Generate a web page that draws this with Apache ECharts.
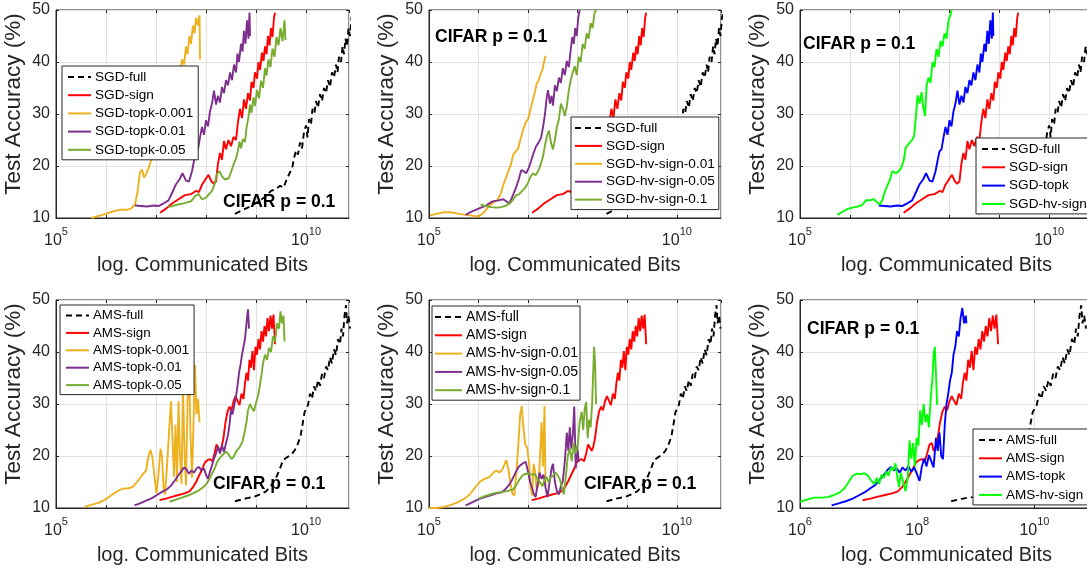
<!DOCTYPE html>
<html>
<head>
<meta charset="utf-8">
<script src="https://cdn.jsdelivr.net/npm/echarts@6/dist/echarts.min.js"></script>
<style>
  html, body { margin: 0; padding: 0; background: #fff; overflow: hidden; }
  /* a little wider than the window: the right-hand panels run past the picture edge */
  #chart { width: 1110px; height: 571px; }
</style>
</head>
<body>
<div id="chart"></div>
<script>
// every point is [log10 of communicated bits, test accuracy %]
const sgdFull = [[8.58,10.8],[8.75,11.6],[8.9,12.3],[9.05,13.2],[9.2,14.2],[9.3,15.2],[9.4,15.6],[9.48,16.2],[9.55,15.8],[9.62,17.6],[9.68,18.8],[9.72,19.4],[9.76,21.5],[9.8,23.0],[9.84,22.2],[9.88,24.5],[9.92,23.4],[9.96,26.5],[10.0,27.8],[10.03,25.5],[10.06,29.0],[10.1,28.0],[10.13,31.0],[10.17,30.2],[10.2,32.5],[10.24,31.2],[10.28,33.8],[10.32,32.5],[10.36,35.0],[10.4,34.0],[10.44,36.5],[10.48,35.2],[10.52,38.0],[10.56,37.0],[10.6,39.5],[10.63,38.0],[10.66,41.0],[10.7,40.0],[10.73,43.0],[10.76,41.5],[10.79,44.5],[10.82,43.0],[10.85,46.5],[10.88,45.0],[10.91,48.5],[10.94,50.0]];
const sgdSign = [[7.08,11.0],[7.2,11.8],[7.32,12.8],[7.45,13.6],[7.58,14.4],[7.7,14.6],[7.8,15.2],[7.86,15.0],[7.92,16.4],[8.0,17.6],[8.05,18.3],[8.1,17.2],[8.15,16.6],[8.2,17.0],[8.24,20.5],[8.28,22.5],[8.32,21.2],[8.36,24.8],[8.4,23.2],[8.45,25.0],[8.5,23.8],[8.55,25.6],[8.6,25.0],[8.64,28.5],[8.68,31.0],[8.72,29.2],[8.76,32.8],[8.8,31.0],[8.84,34.0],[8.88,32.6],[8.91,36.2],[8.95,35.0],[8.98,38.0],[9.02,36.8],[9.05,40.0],[9.08,38.5],[9.12,41.8],[9.15,40.2],[9.18,43.0],[9.21,41.5],[9.24,45.0],[9.27,43.2],[9.3,46.5],[9.33,44.8],[9.36,48.5],[9.38,49.5]];
const sgdTopk001 = [[5.71,10.0],[5.85,10.4],[6.0,10.8],[6.15,11.3],[6.3,11.6],[6.42,11.6],[6.5,11.8],[6.58,12.6],[6.63,15.0],[6.68,18.8],[6.72,19.3],[6.76,17.8],[6.8,18.4],[6.85,19.6],[6.9,21.0],[7.0,23.5],[7.1,26.0],[7.2,29.0],[7.3,32.0],[7.4,35.0],[7.48,38.0],[7.52,40.5],[7.56,39.5],[7.6,43.0],[7.63,41.5],[7.67,45.0],[7.7,43.5],[7.74,47.0],[7.77,45.5],[7.8,48.5],[7.84,47.0],[7.87,49.0],[7.88,40.5]];
const sgdTopk01 = [[6.58,12.4],[6.7,12.3],[6.82,12.2],[6.95,12.4],[7.05,12.3],[7.15,12.8],[7.25,13.4],[7.33,15.0],[7.4,16.5],[7.47,17.4],[7.53,18.6],[7.6,17.2],[7.66,17.0],[7.72,19.0],[7.77,21.5],[7.8,22.8],[7.84,23.2],[7.88,25.5],[7.92,27.5],[7.96,26.0],[8.0,28.8],[8.04,27.6],[8.08,30.5],[8.12,32.0],[8.16,34.5],[8.2,31.8],[8.24,33.5],[8.28,32.2],[8.32,35.2],[8.36,34.0],[8.4,36.5],[8.44,35.5],[8.48,38.0],[8.52,36.5],[8.56,39.5],[8.6,38.0],[8.63,41.6],[8.66,40.0],[8.7,43.5],[8.73,42.0],[8.76,46.0],[8.79,43.5],[8.82,48.0],[8.85,44.5],[8.87,49.5],[8.88,45.0]];
const sgdTopk05 = [[7.25,12.1],[7.4,12.5],[7.55,12.8],[7.7,13.2],[7.78,14.2],[7.85,14.6],[7.92,13.6],[8.0,13.9],[8.06,14.6],[8.12,15.2],[8.17,16.4],[8.22,18.5],[8.27,19.0],[8.32,18.0],[8.38,17.4],[8.45,17.6],[8.5,18.8],[8.55,20.3],[8.6,21.4],[8.64,23.0],[8.67,24.7],[8.7,23.4],[8.74,25.2],[8.78,24.6],[8.81,27.3],[8.85,29.5],[8.88,31.8],[8.91,30.2],[8.95,33.2],[8.98,31.5],[9.02,34.6],[9.06,33.0],[9.1,36.4],[9.14,35.0],[9.18,38.8],[9.21,37.4],[9.25,40.5],[9.29,39.0],[9.33,42.6],[9.37,41.0],[9.41,44.8],[9.45,43.2],[9.49,46.5],[9.53,44.0],[9.57,48.0],[9.59,44.2]];
const sgdHv001 = [[5.02,10.5],[5.15,10.8],[5.3,11.1],[5.45,11.1],[5.6,10.8],[5.75,10.6],[5.9,10.4],[6.0,10.3],[6.1,11.0],[6.2,12.2],[6.3,13.0],[6.38,13.4],[6.45,14.8],[6.5,16.4],[6.55,17.6],[6.6,19.0],[6.65,20.2],[6.7,22.2],[6.75,22.8],[6.8,23.4],[6.85,25.3],[6.9,27.0],[6.95,28.4],[7.0,29.0],[7.05,31.0],[7.09,32.5],[7.13,34.0],[7.17,35.8],[7.21,36.4],[7.25,37.6],[7.29,38.6],[7.32,40.0],[7.35,41.2]];
const sgdHv05 = [[5.74,10.6],[5.85,11.2],[6.0,11.8],[6.15,12.4],[6.28,13.2],[6.4,13.4],[6.5,13.6],[6.56,13.2],[6.61,12.8],[6.66,13.6],[6.71,14.8],[6.76,16.0],[6.81,17.4],[6.86,19.2],[6.91,19.0],[6.96,18.6],[7.01,19.6],[7.06,21.0],[7.11,22.5],[7.16,23.8],[7.21,24.5],[7.26,25.4],[7.3,27.5],[7.34,30.0],[7.37,32.8],[7.4,34.6],[7.44,32.0],[7.47,33.5],[7.5,31.6],[7.54,35.5],[7.58,34.4],[7.62,37.0],[7.66,36.0],[7.7,38.8],[7.74,37.5],[7.78,40.2],[7.82,39.0],[7.86,42.5],[7.89,44.8],[7.92,43.5],[7.95,46.5],[7.98,45.0],[8.01,48.5],[8.04,50.0]];
const sgdHv1 = [[6.04,12.6],[6.14,12.3],[6.25,12.1],[6.36,12.0],[6.46,12.1],[6.56,12.4],[6.64,12.9],[6.7,13.6],[6.76,14.4],[6.82,14.6],[6.88,15.2],[6.94,15.8],[7.0,16.8],[7.05,18.0],[7.1,18.6],[7.15,18.2],[7.2,19.0],[7.25,20.2],[7.3,21.8],[7.34,24.0],[7.38,25.8],[7.42,26.8],[7.46,24.5],[7.5,23.2],[7.54,25.0],[7.58,27.5],[7.62,29.0],[7.66,32.0],[7.7,31.0],[7.74,29.6],[7.78,31.5],[7.82,34.5],[7.86,36.6],[7.9,38.0],[7.94,39.2],[7.98,37.5],[8.02,41.0],[8.06,40.0],[8.1,43.5],[8.14,42.5],[8.18,45.5],[8.22,44.5],[8.26,47.5],[8.3,46.5],[8.34,49.5],[8.37,50.0]];
const sgdHv = [[5.75,10.6],[5.85,11.2],[5.95,11.7],[6.05,12.0],[6.15,12.2],[6.25,12.5],[6.32,13.4],[6.4,13.4],[6.48,13.6],[6.55,13.0],[6.6,12.6],[6.65,13.4],[6.7,15.0],[6.75,16.2],[6.8,17.2],[6.85,19.0],[6.89,19.2],[6.93,18.6],[6.98,19.0],[7.03,19.6],[7.08,21.0],[7.12,23.5],[7.16,24.0],[7.2,24.2],[7.25,25.0],[7.29,25.8],[7.33,30.0],[7.36,33.6],[7.4,32.0],[7.44,34.2],[7.47,31.5],[7.51,29.6],[7.54,35.5],[7.58,37.0],[7.62,36.0],[7.66,40.0],[7.7,39.0],[7.74,42.5],[7.78,41.0],[7.82,44.0],[7.86,43.0],[7.9,45.5],[7.94,44.5],[7.98,48.0],[8.02,49.0],[8.04,50.0]];

const amsFull = [[8.58,11.3],[8.7,11.6],[8.82,11.9],[8.95,12.1],[9.08,12.6],[9.2,13.2],[9.28,14.0],[9.35,15.0],[9.42,16.2],[9.48,17.6],[9.54,19.2],[9.6,19.6],[9.66,20.0],[9.72,20.4],[9.78,21.2],[9.84,22.4],[9.89,23.8],[9.93,26.0],[9.97,28.4],[10.0,29.0],[10.04,29.8],[10.08,32.0],[10.12,31.0],[10.16,33.4],[10.2,32.5],[10.24,34.6],[10.28,33.5],[10.32,35.8],[10.36,35.0],[10.4,37.2],[10.44,36.5],[10.48,39.0],[10.52,37.8],[10.56,40.5],[10.6,39.4],[10.64,42.5],[10.68,41.5],[10.71,44.5],[10.74,43.0],[10.77,47.0],[10.8,49.0],[10.82,45.5],[10.85,47.0],[10.88,44.5]];
const amsSign = [[7.07,11.5],[7.2,11.8],[7.33,12.2],[7.45,12.5],[7.57,12.8],[7.67,13.2],[7.74,14.0],[7.8,15.0],[7.87,16.4],[7.93,17.6],[7.98,18.8],[8.03,19.2],[8.08,19.4],[8.13,19.0],[8.17,20.5],[8.21,22.2],[8.25,22.5],[8.28,21.0],[8.31,21.6],[8.35,23.5],[8.39,26.5],[8.43,28.5],[8.47,29.5],[8.51,28.8],[8.55,30.5],[8.59,31.5],[8.63,30.6],[8.67,29.8],[8.71,32.0],[8.75,31.0],[8.78,34.0],[8.81,36.0],[8.84,34.5],[8.87,38.5],[8.9,37.0],[8.93,40.2],[8.96,36.5],[8.99,41.0],[9.02,39.5],[9.05,42.5],[9.08,40.5],[9.11,44.0],[9.14,42.0],[9.17,45.0],[9.2,43.0],[9.23,46.5],[9.26,44.0],[9.29,47.0],[9.32,44.5],[9.35,47.2],[9.37,43.5],[9.38,41.5]];
const amsTopk001 = [[5.57,10.2],[5.7,10.6],[5.85,11.0],[5.98,11.6],[6.1,12.4],[6.22,13.2],[6.33,13.7],[6.45,13.8],[6.53,14.0],[6.62,15.0],[6.72,16.3],[6.8,17.2],[6.85,20.0],[6.89,21.2],[6.93,19.6],[6.97,16.0],[7.01,12.8],[7.05,16.5],[7.09,21.4],[7.12,19.8],[7.15,14.0],[7.18,12.6],[7.22,18.0],[7.26,24.5],[7.3,30.5],[7.33,23.0],[7.36,16.0],[7.39,26.0],[7.42,15.0],[7.45,30.5],[7.48,20.0],[7.51,14.6],[7.54,33.6],[7.57,20.5],[7.6,14.4],[7.63,30.0],[7.66,38.0],[7.69,24.0],[7.72,15.8],[7.75,26.0],[7.78,37.5],[7.81,28.0],[7.84,31.0],[7.87,26.5]];
const amsTopk01 = [[6.57,10.5],[6.68,10.9],[6.8,11.4],[6.92,11.9],[7.02,12.5],[7.12,13.1],[7.22,13.6],[7.3,14.3],[7.37,15.2],[7.44,16.2],[7.5,17.0],[7.56,17.8],[7.61,17.4],[7.66,16.6],[7.71,17.2],[7.76,16.8],[7.81,17.6],[7.86,17.9],[7.91,17.2],[7.96,17.6],[8.0,16.4],[8.04,15.6],[8.08,17.0],[8.12,18.2],[8.16,19.5],[8.2,20.5],[8.24,21.8],[8.28,20.5],[8.32,22.0],[8.36,20.8],[8.4,22.5],[8.44,24.0],[8.47,26.0],[8.5,29.0],[8.53,28.0],[8.57,30.0],[8.6,31.5],[8.63,33.5],[8.66,36.0],[8.69,37.5],[8.72,39.5],[8.75,41.0],[8.78,42.5],[8.8,44.5],[8.82,46.5],[8.84,48.2],[8.86,44.5]];
const amsTopk05 = [[7.27,11.2],[7.4,11.6],[7.52,12.0],[7.64,12.4],[7.76,12.9],[7.86,13.4],[7.94,14.0],[8.0,14.5],[8.06,15.4],[8.12,16.6],[8.17,17.5],[8.22,18.8],[8.26,19.4],[8.31,20.0],[8.36,20.5],[8.41,20.8],[8.46,20.2],[8.51,19.4],[8.55,19.8],[8.59,20.6],[8.63,21.2],[8.68,21.8],[8.73,22.8],[8.77,24.5],[8.81,26.5],[8.84,28.8],[8.88,30.0],[8.92,29.2],[8.96,28.6],[9.0,30.2],[9.04,31.5],[9.08,33.8],[9.11,35.6],[9.14,37.8],[9.18,39.5],[9.22,38.5],[9.26,40.8],[9.3,40.0],[9.34,43.0],[9.38,42.0],[9.42,45.5],[9.46,44.5],[9.49,47.8],[9.52,45.5],[9.55,47.0],[9.57,42.0]];
const amsHv001 = [[5.0,10.0],[5.15,10.0],[5.3,10.2],[5.45,10.6],[5.6,11.2],[5.72,11.8],[5.82,12.6],[5.92,13.8],[6.02,15.0],[6.12,15.6],[6.22,16.0],[6.3,16.8],[6.36,17.2],[6.42,16.8],[6.48,17.4],[6.53,18.6],[6.56,19.2],[6.6,17.5],[6.64,15.0],[6.68,12.8],[6.72,12.4],[6.76,16.5],[6.8,22.0],[6.84,28.0],[6.87,29.6],[6.9,26.0],[6.94,22.2],[6.98,21.6],[7.02,18.5],[7.05,14.0],[7.08,12.4],[7.11,18.5],[7.14,17.0],[7.17,13.6],[7.21,14.5],[7.24,20.0],[7.27,26.5],[7.3,18.0],[7.33,29.6],[7.35,14.0]];
const amsHv05 = [[5.74,10.5],[5.85,11.0],[5.96,11.5],[6.06,11.9],[6.16,12.2],[6.26,12.5],[6.36,12.8],[6.46,13.0],[6.54,13.6],[6.61,14.4],[6.68,15.5],[6.75,16.9],[6.8,17.8],[6.85,18.3],[6.9,18.6],[6.95,18.9],[6.98,19.2],[7.01,16.5],[7.04,15.0],[7.08,13.8],[7.12,12.6],[7.15,12.1],[7.19,14.5],[7.23,16.8],[7.27,15.6],[7.31,16.4],[7.35,14.0],[7.39,12.1],[7.43,14.8],[7.47,17.5],[7.5,18.5],[7.54,15.0],[7.58,13.2],[7.62,12.6],[7.66,14.2],[7.7,15.2],[7.74,19.0],[7.78,24.5],[7.81,21.0],[7.84,25.5],[7.87,21.4],[7.9,24.0],[7.93,29.5],[7.96,17.6],[7.99,22.0],[8.02,18.9]];
const amsHv1 = [[6.0,11.8],[6.1,12.2],[6.2,12.5],[6.3,12.8],[6.4,13.0],[6.5,13.1],[6.6,13.3],[6.7,13.6],[6.76,14.4],[6.82,15.4],[6.88,16.2],[6.95,16.6],[7.02,16.6],[7.08,16.4],[7.14,16.5],[7.19,15.5],[7.24,15.0],[7.29,14.2],[7.33,15.5],[7.37,16.0],[7.41,15.0],[7.45,15.8],[7.5,16.2],[7.55,16.8],[7.6,16.2],[7.64,15.5],[7.68,14.0],[7.72,12.6],[7.76,16.0],[7.8,20.0],[7.84,21.4],[7.88,19.0],[7.92,22.5],[7.96,20.5],[8.0,22.0],[8.04,26.6],[8.08,28.5],[8.11,25.0],[8.14,29.0],[8.17,30.4],[8.2,23.4],[8.23,27.0],[8.26,25.5],[8.29,30.0],[8.31,35.5],[8.33,41.0],[8.35,38.0],[8.37,30.0]];
const amsTopk = [[6.54,10.5],[6.66,10.9],[6.78,11.3],[6.9,11.8],[7.0,12.4],[7.1,13.0],[7.2,13.8],[7.28,14.4],[7.36,15.4],[7.43,16.4],[7.5,17.4],[7.55,17.9],[7.6,17.2],[7.65,17.6],[7.7,16.8],[7.75,17.8],[7.8,17.2],[7.85,18.0],[7.9,17.0],[7.95,17.8],[8.0,16.4],[8.04,15.2],[8.08,18.0],[8.12,19.5],[8.16,18.0],[8.2,20.2],[8.24,19.0],[8.28,17.8],[8.32,23.5],[8.35,21.0],[8.38,24.5],[8.41,20.0],[8.44,19.4],[8.47,26.0],[8.5,30.0],[8.53,32.0],[8.56,34.5],[8.59,36.0],[8.62,39.5],[8.65,41.0],[8.68,44.0],[8.71,43.0],[8.74,46.5],[8.77,48.5],[8.8,45.5],[8.83,47.0],[8.84,45.5]];
const amsHv = [[6.0,11.2],[6.12,11.6],[6.24,12.0],[6.36,12.0],[6.48,12.1],[6.58,12.5],[6.68,13.0],[6.76,13.8],[6.83,15.0],[6.9,16.2],[6.97,16.6],[7.04,16.5],[7.1,16.7],[7.16,16.2],[7.22,15.2],[7.27,14.6],[7.31,15.8],[7.35,14.6],[7.39,16.4],[7.43,15.8],[7.47,17.0],[7.51,16.2],[7.55,17.8],[7.59,17.2],[7.63,18.6],[7.66,16.0],[7.69,14.0],[7.72,16.8],[7.76,15.0],[7.8,13.2],[7.84,16.0],[7.87,23.0],[7.9,19.5],[7.93,22.5],[7.96,18.0],[7.99,23.5],[8.02,22.0],[8.05,28.8],[8.08,26.0],[8.11,30.0],[8.14,26.5],[8.17,28.0],[8.2,25.5],[8.23,31.0],[8.26,35.0],[8.28,39.5],[8.3,41.0],[8.32,36.0],[8.34,29.8]];

const yTicks = [10, 20, 30, 40, 50];
const noteText = 'CIFAR p = 0.1';

const FONT = '"Liberation Sans", Arial, Helvetica, sans-serif';
const INK = '#262626';
const RED = '#ff0000', ORANGE = '#EDB120', PURPLE = '#7E2F8E', OLIVE = '#77AC30', BLUE = '#0000ff', LIME = '#00ff00';

const panels = [
  {
    grid: { left: 56, top: 10, width: 293, height: 208 }, xMin: 5, xMax: 10.86, xStep: 1, xShow: [5, 10],
    legend: { left: 62, top: 66, fontSize: 13.6, itemWidth: 23, itemGap: 4.2, pad: [4, 5, 3, 5] }, note: { left: 223, top: 193 },
    lines: [
      { name: 'SGD-full', data: sgdFull, color: '#000', dash: true },
      { name: 'SGD-sign', data: sgdSign, color: RED },
      { name: 'SGD-topk-0.001', data: sgdTopk001, color: ORANGE },
      { name: 'SGD-topk-0.01', data: sgdTopk01, color: PURPLE },
      { name: 'SGD-topk-0.05', data: sgdTopk05, color: OLIVE }
    ]
  },
  {
    grid: { left: 429, top: 10, width: 292, height: 208 }, xMin: 5, xMax: 10.89, xStep: 1, xShow: [5, 10],
    legend: { left: 571, top: 117, fontSize: 13.6, itemWidth: 27, itemGap: 3.9, pad: [4, 4, 3, 3] }, note: { left: 435, top: 28 },
    lines: [
      { name: 'SGD-full', data: sgdFull, color: '#000', dash: true },
      { name: 'SGD-sign', data: sgdSign, color: RED },
      { name: 'SGD-hv-sign-0.01', data: sgdHv001, color: ORANGE },
      { name: 'SGD-hv-sign-0.05', data: sgdHv05, color: PURPLE },
      { name: 'SGD-hv-sign-0.1', data: sgdHv1, color: OLIVE }
    ]
  },
  {
    grid: { left: 800, top: 10, width: 293, height: 208 }, xMin: 5, xMax: 10.88, xStep: 1, xShow: [5, 10],
    legend: { left: 976, top: 138, fontSize: 13.6, itemWidth: 23, itemGap: 4.3, pad: [4, 6, 3, 5] }, note: { left: 803, top: 35 },
    lines: [
      { name: 'SGD-full', data: sgdFull, color: '#000', dash: true },
      { name: 'SGD-sign', data: sgdSign, color: RED },
      { name: 'SGD-topk', data: sgdTopk01, color: BLUE },
      { name: 'SGD-hv-sign', data: sgdHv, color: LIME }
    ]
  },
  {
    grid: { left: 56, top: 300, width: 293, height: 208 }, xMin: 5, xMax: 10.86, xStep: 1, xShow: [5, 10],
    legend: { left: 60, top: 305, fontSize: 13.3, itemWidth: 23, itemGap: 4.4, pad: [4, 5, 3, 5] }, note: { left: 213, top: 475 },
    lines: [
      { name: 'AMS-full', data: amsFull, color: '#000', dash: true },
      { name: 'AMS-sign', data: amsSign, color: RED },
      { name: 'AMS-topk-0.001', data: amsTopk001, color: ORANGE },
      { name: 'AMS-topk-0.01', data: amsTopk01, color: PURPLE },
      { name: 'AMS-topk-0.05', data: amsTopk05, color: OLIVE }
    ]
  },
  {
    grid: { left: 429, top: 300, width: 292, height: 208 }, xMin: 5, xMax: 10.89, xStep: 1, xShow: [5, 10],
    legend: { left: 432, top: 306, fontSize: 14, itemWidth: 27, itemGap: 4.3, pad: [4, 2, 3, 2] }, note: { left: 584, top: 475 },
    lines: [
      { name: 'AMS-full', data: amsFull, color: '#000', dash: true },
      { name: 'AMS-sign', data: amsSign, color: RED },
      { name: 'AMS-hv-sign-0.01', data: amsHv001, color: ORANGE },
      { name: 'AMS-hv-sign-0.05', data: amsHv05, color: PURPLE },
      { name: 'AMS-hv-sign-0.1', data: amsHv1, color: OLIVE }
    ]
  },
  {
    grid: { left: 800, top: 300, width: 293, height: 208 }, xMin: 6, xMax: 11, xStep: 2, xShow: [6, 8, 10],
    legend: { left: 973, top: 429, fontSize: 13.5, itemWidth: 23, itemGap: 4.3, pad: [4, 6, 3, 5] }, note: { left: 807, top: 320 },
    lines: [
      { name: 'AMS-full', data: amsFull, color: '#000', dash: true },
      { name: 'AMS-sign', data: amsSign, color: RED },
      { name: 'AMS-topk', data: amsTopk, color: BLUE },
      { name: 'AMS-hv-sign', data: amsHv, color: LIME }
    ]
  }
];

const grids = [], xAxes = [], yAxes = [], series = [], legends = [], titles = [];

panels.forEach((p, i) => {
  grids.push({
    ...p.grid, containLabel: false, outerBoundsMode: 'none',
    show: true, borderColor: INK, borderWidth: 1, backgroundColor: '#fff'
  });

  xAxes.push({
    type: 'value', gridIndex: i, position: 'bottom',
    min: p.xMin, max: p.xMax, interval: p.xStep,
    name: 'log. Communicated Bits', nameLocation: 'middle', nameGap: 37, nameMoveOverlap: false,
    nameTextStyle: { fontFamily: FONT, fontSize: 20, color: INK },
    axisLine: { show: true, lineStyle: { color: INK, width: 1 } },
    axisTick: { show: true, inside: true, length: 3, lineStyle: { color: INK } },
    splitLine: { show: true, lineStyle: { color: '#e2e2e2', width: 1 } },
    axisLabel: {
      margin: 8, showMaxLabel: false,
      formatter: v => (p.xShow.includes(v) ? `{b|10}{s|${v}}` : ''),
      rich: {
        b: { fontFamily: FONT, fontSize: 16, color: INK, verticalAlign: 'bottom', padding: [7, 0, 0, 0] },
        s: { fontFamily: FONT, fontSize: 11, color: INK, verticalAlign: 'top' }
      }
    }
  });
  xAxes.push({
    type: 'value', gridIndex: i, position: 'top',
    min: p.xMin, max: p.xMax, interval: p.xStep,
    axisLine: { show: false }, axisLabel: { show: false }, splitLine: { show: false },
    axisTick: { show: true, inside: true, length: 3, lineStyle: { color: INK } }
  });

  yAxes.push({
    type: 'value', gridIndex: i, position: 'left',
    min: yTicks[0], max: yTicks[yTicks.length - 1], interval: yTicks[1] - yTicks[0],
    name: 'Test Accuracy (%)', nameLocation: 'middle', nameGap: 31, nameMoveOverlap: false,
    nameTextStyle: { fontFamily: FONT, fontSize: 22.5, color: INK, padding: [0, 0, 0, 20] },
    axisLine: { show: true, lineStyle: { color: INK, width: 1 } },
    axisTick: { show: true, inside: true, length: 3, lineStyle: { color: INK } },
    splitLine: { show: true, lineStyle: { color: '#e2e2e2', width: 1 } },
    axisLabel: { fontFamily: FONT, fontSize: 16, color: INK, margin: 6 }
  });
  yAxes.push({
    type: 'value', gridIndex: i, position: 'right',
    min: yTicks[0], max: yTicks[yTicks.length - 1], interval: yTicks[1] - yTicks[0],
    axisLine: { show: false }, axisLabel: { show: false }, splitLine: { show: false },
    axisTick: { show: true, inside: true, length: 3, lineStyle: { color: INK } }
  });

  p.lines.forEach(l => {
    series.push({
      name: l.name, type: 'line',
      xAxisIndex: 2 * i, yAxisIndex: 2 * i,
      data: l.data,
      symbol: 'none', showSymbol: false, smooth: false, clip: true,
      animation: false,
      lineStyle: { color: l.color, width: 1.9, type: l.dash ? [6, 4] : 'solid' },
      itemStyle: { color: l.color }
    });
  });

  legends.push({
    orient: 'vertical', left: p.legend.left, top: p.legend.top,
    data: p.lines.map(l => l.name),
    itemWidth: p.legend.itemWidth, itemHeight: 14, itemGap: p.legend.itemGap,
    padding: p.legend.pad,
    backgroundColor: '#fff', borderColor: INK, borderWidth: 1, borderRadius: 0,
    selectedMode: false,
    itemStyle: { opacity: 0, borderWidth: 0 },
    textStyle: { fontFamily: FONT, fontSize: p.legend.fontSize, color: '#000', padding: [0, 0, 0, -1] }
  });

  titles.push({
    text: noteText, left: p.note.left, top: p.note.top, padding: 0,
    textStyle: { fontFamily: FONT, fontSize: 17.5, fontWeight: 'bold', color: '#000' }
  });
});

const chart = echarts.init(document.getElementById('chart'), null, { renderer: 'canvas' });
chart.setOption({
  animation: false,
  backgroundColor: '#fff',
  title: titles,
  legend: legends,
  grid: grids,
  xAxis: xAxes,
  yAxis: yAxes,
  series: series
});
</script>
</body>
</html>
